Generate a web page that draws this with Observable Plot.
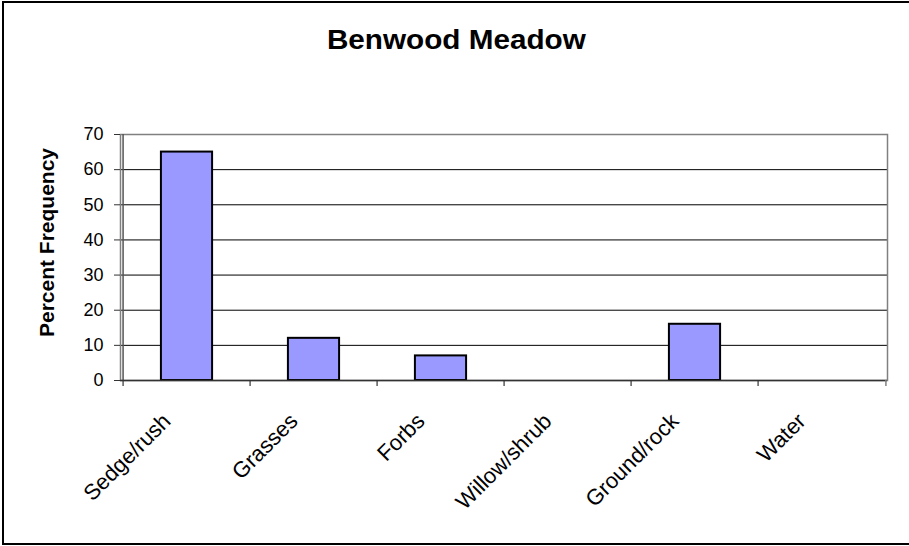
<!DOCTYPE html>
<html>
<head>
<meta charset="utf-8">
<script src="https://cdn.jsdelivr.net/npm/d3@7"></script>
<script src="https://cdn.jsdelivr.net/npm/@observablehq/plot@0.6"></script>
<style>
  html, body { margin: 0; padding: 0; background: #fff; overflow: hidden; }
  #wrap { position: relative; width: 909px; height: 546px; overflow: hidden; font-family: "Liberation Sans", Arial, sans-serif; }
  #border { position: absolute; left: 2px; top: 1px; width: 930px; height: 540px; border: 2px solid #000; box-sizing: content-box; pointer-events: none; }
  #title { position: absolute; left: 2px; width: 909px; top: 26px; text-align: center; font-size: 28px; line-height: 28px; font-weight: bold; color: #000; transform: scaleX(1.06); transform-origin: 457px 0; }
  #chart { position: absolute; left: 0; top: 0; }
</style>
</head>
<body>
<div id="wrap">
  <div id="chart"></div>
  <div id="title">Benwood Meadow</div>
  <div id="border"></div>
</div>
<script>
const categories = ["Sedge/rush", "Grasses", "Forbs", "Willow/shrub", "Ground/rock", "Water"];
const values = [65, 12, 7, 0, 16, 0];
const yTicks = [0, 10, 20, 30, 40, 50, 60, 70];
const yLabel = "Percent Frequency";

const data = categories.map((c, i) => ({category: c, value: values[i]}));

const W = 909, H = 546;
const mL = 120, mR = 22, mT = 134, mB = 166;
const step = (W - mL - mR) / categories.length;
const barW = 52;
const inset = (step - barW) / 2;

const chart = Plot.plot({
  width: W,
  height: H,
  marginLeft: mL,
  marginRight: mR,
  marginTop: mT,
  marginBottom: mB,
  style: {fontFamily: "'Liberation Sans', Arial, sans-serif", fontSize: "18px", color: "#000", background: "transparent"},
  x: {type: "band", domain: categories, padding: 0, axis: null},
  y: {domain: [0, 70], axis: null},
  marks: [
    Plot.ruleY(yTicks.filter(v => v > 0 && v < 70), {stroke: "#000", strokeWidth: 1}),
    Plot.frame({stroke: "#808080", strokeWidth: 1.5}),
    Plot.ruleX([categories[0]], {dx: -step / 2, stroke: "#555", strokeWidth: 1.5}),
    Plot.barY(data.filter(d => d.value > 0), {x: "category", y: "value", fill: "#9999FF", stroke: "#000", strokeWidth: 2, insetLeft: inset, insetRight: inset}),
    Plot.ruleY([0], {stroke: "#333", strokeWidth: 1.5}),
    Plot.ruleX(categories, {x: d => d, y1: 0, y2: 0, insetBottom: -6, dx: -step / 2, stroke: "#333", strokeWidth: 1.2}),
    Plot.ruleX([categories[categories.length - 1]], {y1: 0, y2: 0, insetBottom: -6, dx: step / 2, stroke: "#808080", strokeWidth: 1.5}),
    Plot.axisY(yTicks, {anchor: "left", tickSize: 6, tickPadding: 11, fontSize: 18, stroke: "#333", label: null}),
    Plot.text(categories, {x: d => d, frameAnchor: "bottom", rotate: -45, textAnchor: "end", lineAnchor: "bottom", dx: -15, dy: 42, fontSize: 22, fill: "#000"}),
    Plot.text([yLabel], {frameAnchor: "left", rotate: -90, textAnchor: "middle", lineAnchor: "bottom", dx: -67, dy: -15, fontSize: 21, fontWeight: "bold", fill: "#000"})
  ]
});
document.getElementById("chart").appendChild(chart);
</script>
</body>
</html>
